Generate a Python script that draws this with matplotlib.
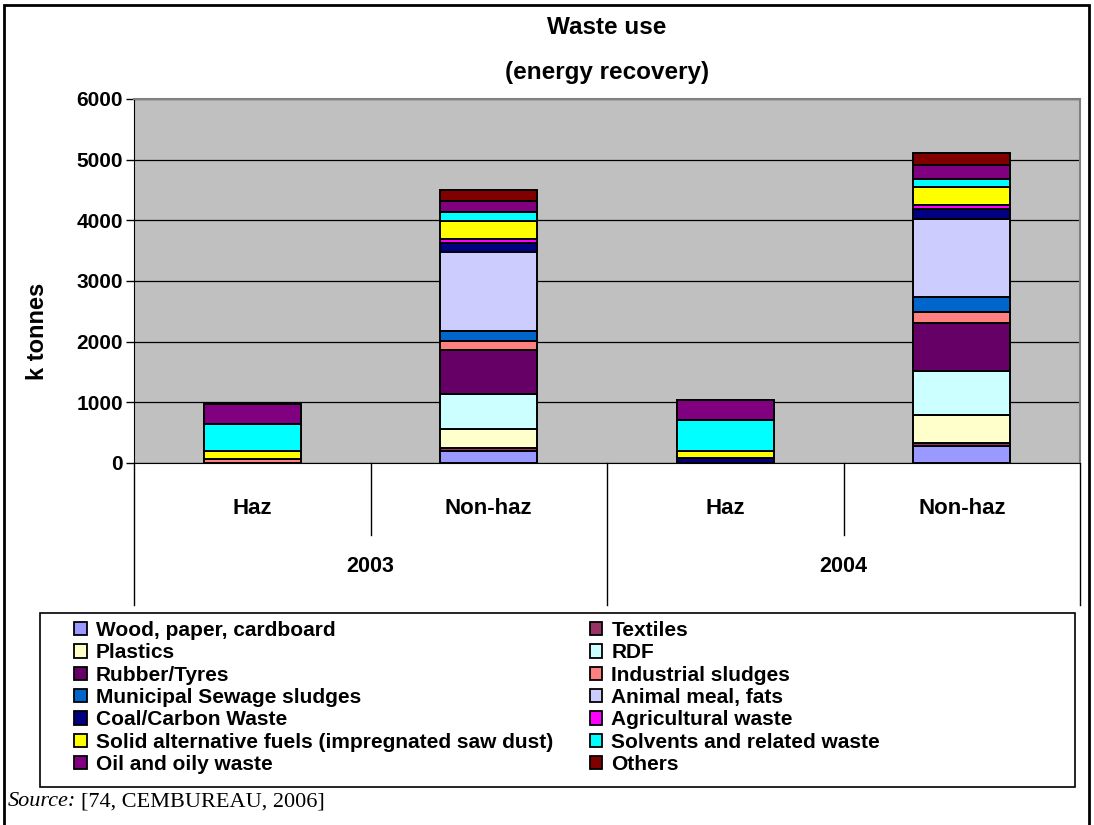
import numpy as np
import matplotlib.pyplot as plt
from matplotlib.patches import Rectangle, Patch
from matplotlib.lines import Line2D

# categories (waste type / year)
groups = ['Haz', 'Non-haz', 'Haz', 'Non-haz']
years = ['2003', '2004']

# series, bottom to top of the stack (k tonnes)
series = ['Wood, paper, cardboard', 'Textiles', 'Plastics', 'RDF', 'Rubber/Tyres',
          'Industrial sludges', 'Municipal Sewage sludges', 'Animal meal, fats',
          'Coal/Carbon Waste', 'Agricultural waste',
          'Solid alternative fuels (impregnated saw dust)',
          'Solvents and related waste', 'Oil and oily waste', 'Others']

wood = [0, 200, 0, 280]
textiles = [0, 40, 0, 55]
plastics = [0, 325, 0, 450]
rdf = [0, 575, 0, 725]
rubber = [0, 725, 0, 790]
ind_sludge = [60, 140, 0, 187]
mun_sludge = [0, 175, 0, 243]
animal = [0, 1295, 0, 1295]
coal = [0, 150, 80, 155]
agri = [0, 65, 0, 65]
solid_alt = [140, 300, 120, 297]
solvents = [440, 145, 505, 142]
oil = [330, 185, 333, 220]
others = [0, 180, 0, 208]

values = [wood, textiles, plastics, rdf, rubber, ind_sludge, mun_sludge, animal,
          coal, agri, solid_alt, solvents, oil, others]

colors = ['#9999FF', '#993366', '#FFFFCC', '#CCFFFF', '#660066', '#FF8080', '#0066CC',
          '#CCCCFF', '#000080', '#FF00FF', '#FFFF00', '#00FFFF', '#800080', '#800000']

plt.rcParams['font.family'] = ['Liberation Sans', 'DejaVu Sans']
plt.rcParams['font.weight'] = 'bold'

W, H = 1094, 825
fig = plt.figure(figsize=(W / 100, H / 100), dpi=100)

def fx(px):
    return px / W

def fy(py):
    return 1 - py / H

left, right, top, bottom = 134, 1080, 99, 463
ax = fig.add_axes([fx(left), fy(bottom), fx(right - left), (bottom - top) / H])
ax.set_facecolor('#C0C0C0')

x = np.arange(len(groups))
base = np.zeros(len(groups))
for name, vals, c in zip(series, values, colors):
    v = np.array(vals, dtype=float)
    ax.bar(x, v, width=0.41, bottom=base, color=c, edgecolor='black', linewidth=1.4,
           label=name, zorder=3)
    base += v

ax.set_xlim(-0.5, 3.5)
ax.set_ylim(0, 6000)
ax.set_yticks(np.arange(0, 6001, 1000))
ax.yaxis.grid(True, color='black', linewidth=0.9, zorder=1)
ax.set_axisbelow(True)
ax.tick_params(axis='y', direction='out', length=6, width=1, labelsize=15, pad=2)
for lab in ax.get_yticklabels():
    lab.set_fontweight('bold')
ax.set_xticks([])
for s in ['top', 'right']:
    ax.spines[s].set_color('#808080')
    ax.spines[s].set_linewidth(1.5)
ax.spines['left'].set_color('black')
ax.spines['bottom'].set_color('black')

fig.text(fx(37), fy(331), 'k tonnes', rotation=90, ha='center', va='center',
         fontsize=17, fontweight='bold')

# multi-level category axis
tr = ax.get_xaxis_transform()
ph = bottom - top
inner = -(535 - bottom) / ph
outer = -(605 - bottom) / ph
for xv in [0.5, 2.5]:
    ax.add_line(Line2D([xv, xv], [0, inner], transform=tr, color='black', lw=1, clip_on=False))
for xv in [-0.5, 1.5, 3.5]:
    ax.add_line(Line2D([xv, xv], [0, outer], transform=tr, color='black', lw=1, clip_on=False))
for xi, g in zip(x, groups):
    ax.text(xi, -(508 - bottom) / ph, g, transform=tr, ha='center', va='center',
            fontsize=16, fontweight='bold')
for i, yr in enumerate(years):
    ax.text(2 * i + 0.5, -(567 - bottom) / ph, yr, transform=tr, ha='center', va='center',
            fontsize=15.5, fontweight='bold')

# titles
fig.text(fx(607), fy(28), 'Waste use', ha='center', va='center', fontsize=17.5,
         fontweight='bold')
fig.text(fx(607), fy(73), '(energy recovery)', ha='center', va='center', fontsize=17.5,
         fontweight='bold')

# legend
fig.add_artist(Rectangle((fx(40), fy(787)), fx(1075 - 40), (787 - 613) / H, fill=False,
                         edgecolor='black', lw=1.2, transform=fig.transFigure))
handles = [Patch(facecolor=c, edgecolor='black', linewidth=1.3) for c in colors]
order = list(range(0, 14, 2)) + list(range(1, 14, 2))
leg = fig.legend([handles[i] for i in order], [series[i] for i in order], ncol=2,
                 loc='upper left', bbox_to_anchor=(fx(74), fy(621)), frameon=False,
                 prop={'weight': 'bold', 'size': 15}, handlelength=0.6, handleheight=0.6,
                 handletextpad=0.45, labelspacing=0.16, columnspacing=1.75, borderpad=0,
                 borderaxespad=0)

# source line
src1 = fig.text(fx(8), fy(802), 'Source:', ha='left', va='center', fontsize=16,
                style='italic', family='Liberation Serif', fontweight='normal')
fig.canvas.draw()
bb = src1.get_window_extent()
fig.text(bb.x1 / W + fx(5), fy(802), '[74, CEMBUREAU, 2006]', ha='left', va='center',
         fontsize=16, family='Liberation Serif', fontweight='normal')

# outer frame
fig.add_artist(Rectangle((fx(4), fy(830)), fx(1089 - 4), (830 - 5) / H, fill=False,
                         edgecolor='black', lw=2, transform=fig.transFigure, clip_on=False))

fig.savefig('out.png', dpi=100)
